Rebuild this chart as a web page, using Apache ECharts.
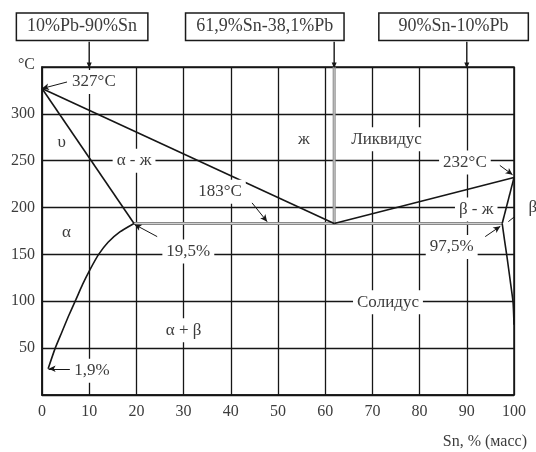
<!DOCTYPE html>
<html>
<head>
<meta charset="utf-8">
<script src="https://cdn.jsdelivr.net/npm/echarts@6/dist/echarts.min.js"></script>
<style>
html,body{margin:0;padding:0;background:#fff;}
#chart{width:536px;height:452px;}
</style>
</head>
<body>
<div id="chart"></div>
<script>
// ---- data ----
const xTicks = [0, 10, 20, 30, 40, 50, 60, 70, 80, 90, 100];
const yTicks = [50, 100, 150, 200, 250, 300];
const xName = 'Sn, % (масс)';
const yName = '°C';

const liquidusAlpha = [[0, 327], [61.9, 183]];
const liquidusBeta = [[61.9, 183], [100, 232]];
const solidusAlpha = [[0, 327], [19.5, 183]];
const solidusBeta = [[100, 232], [97.5, 183]];
const solvusAlpha = [[19.5, 183], [16.5, 174], [14, 163], [12, 150], [10.2, 134], [8.6, 118], [7.2, 102], [5.6, 84], [4.2, 67], [2.8, 50], [1.3, 28]];
const solvusBeta = [[97.5, 183], [98, 165], [98.5, 148], [99.2, 122], [99.8, 99], [100, 75]];
const eutecticLine = [[19.5, 183], [97.5, 183]];
const eutecticVertical = [[61.9, 183], [61.9, 350]];

// text labels [x, y, text]
const regionLabels = [
  [4.2, 269, 'υ'],
  [5.2, 173, 'α'],
  [19.5, 250, 'α - ж'],
  [55.5, 273, 'ж'],
  [73, 273, 'Ликвидус'],
  [37.7, 217, '183°C'],
  [89.6, 248, '232°C'],
  [92, 198, 'β - ж'],
  [104, 200, 'β'],
  [31, 153, '19,5%'],
  [86.8, 158, '97,5%'],
  [73.3, 99, 'Солидус'],
  [30, 69, 'α + β'],
  [10.6, 26, '1,9%'],
  [11, 334, '327°C']
];
// leaders with arrow heads [[x1,y1],[x2,y2]]
const arrowLeaders = [
  [[5.3, 334], [0, 327]],
  [[44.5, 205], [47.7, 185]],
  [[97, 245], [99.7, 235]],
  [[24.4, 169], [19.6, 182]],
  [[93.9, 169], [97.1, 180]],
  [[5.9, 28], [1.4, 28]]
];
const betaLeader = [[101.3, 195], [98.8, 185]];

// composition boxes at the top [x, y, text]
const boxLabels = [
  [8.5, 393, '10%Pb-90%Sn'],
  [47.2, 393, '61,9%Sn-38,1%Pb'],
  [87.2, 393, '90%Sn-10%Pb']
];
const boxPadX = [10, 10, 19];
const boxArrowX = [10, 61.9, 90];
const boxArrowFrom = 377;
const boxArrowTo = 350;

// ---- chart ----
const FONT = '"Liberation Serif", "DejaVu Serif", serif';
const TXT = '#3c3c3c';
const LINE = '#161616';
const chart = echarts.init(document.getElementById('chart'), null, {renderer: 'canvas'});

function curve(data, color, width, z, smooth) {
  return {type: 'line', data: data, symbol: 'none', clip: false, z: z || 3, smooth: smooth || false,
    lineStyle: {color: color || LINE, width: width || 1.6}, silent: true, animation: false};
}

const series = [];
series.push(curve(eutecticLine, '#8a8a8a', 3, 2));
series.push(curve(eutecticLine, '#d0d0d0', 1, 2));
series.push(curve(eutecticVertical, '#8a8a8a', 3, 2));
series.push(curve(eutecticVertical, '#d0d0d0', 1, 2));
series.push(curve(liquidusAlpha));
series.push(curve(liquidusBeta));
series.push(curve(solidusAlpha));
series.push(curve(solidusBeta));
series.push(curve(solvusAlpha, LINE, 1.6, 3, 0.2));
series.push(curve(solvusBeta, LINE, 1.6, 3, 0.2));
series.push(curve(betaLeader, LINE, 1, 3));

boxArrowX.forEach(function (x) {
  series.push({type: 'line', clip: false, z: 3, animation: false, silent: true,
    data: [[x, boxArrowFrom], {value: [x, boxArrowTo + 1.5], symbol: 'triangle', symbolSize: [5, 6], symbolRotate: 180}],
    showSymbol: true, symbol: 'none',
    itemStyle: {color: LINE}, lineStyle: {color: LINE, width: 1.4}});
});

series.push({type: 'line', data: [], symbol: 'none', animation: false, z: 3,
  markLine: {silent: true, symbol: ['none', 'arrow'], symbolSize: [5, 7], animation: false,
    label: {show: false},
    lineStyle: {color: LINE, width: 1, type: 'solid'},
    data: arrowLeaders.map(function (p) { return [{coord: p[0]}, {coord: p[1]}]; })}});

chart.setOption({
  animation: false,
  backgroundColor: '#ffffff',
  grid: {left: 42, top: 67, width: 472, height: 328, show: true, borderColor: LINE, borderWidth: 1.5, backgroundColor: 'transparent'},
  xAxis: {
    type: 'value', min: 0, max: 100, interval: 10, z: 0,
    name: xName, nameLocation: 'end', nameGap: 13,
    nameTextStyle: {fontFamily: FONT, fontSize: 16, color: TXT, align: 'right', verticalAlign: 'top', padding: [39, 0, 0, 0]},
    axisLine: {show: true, lineStyle: {color: LINE, width: 1.5}},
    axisTick: {show: false},
    splitLine: {show: true, lineStyle: {color: LINE, width: 1.3}},
    axisLabel: {margin: 9, fontFamily: FONT, fontSize: 16, color: TXT,
      formatter: function (v) { return xTicks.indexOf(v) >= 0 ? String(v) : ''; }}
  },
  yAxis: {
    type: 'value', min: 0, max: 350, interval: 50, z: 0,
    name: yName, nameLocation: 'end', nameGap: -6,
    nameTextStyle: {fontFamily: FONT, fontSize: 16, color: TXT, padding: [0, 31, 0, 0]},
    axisLine: {show: true, lineStyle: {color: LINE, width: 1.5}},
    axisTick: {show: false},
    splitLine: {show: true, lineStyle: {color: LINE, width: 1.3}},
    axisLabel: {margin: 7, fontFamily: FONT, fontSize: 16, color: TXT,
      formatter: function (v) { return yTicks.indexOf(v) >= 0 ? String(v) : ''; }}
  },
  series: series
});

// text annotations, positioned through the chart's own axes
const graphics = [];
regionLabels.forEach(function (d) {
  const p = chart.convertToPixel({gridIndex: 0}, [d[0], d[1]]);
  graphics.push({type: 'text', x: p[0], y: p[1], z: 100, silent: true,
    style: {text: d[2], fill: TXT, font: '17px ' + FONT, align: 'center', verticalAlign: 'middle',
      backgroundColor: '#ffffff', padding: [4, 4, 3, 4]}});
});
boxLabels.forEach(function (d, i) {
  const p = chart.convertToPixel({gridIndex: 0}, [d[0], d[1]]);
  graphics.push({type: 'text', x: p[0], y: p[1], z: 100, silent: true,
    style: {text: d[2], fill: TXT, font: '18px ' + FONT, align: 'center', verticalAlign: 'middle',
      backgroundColor: '#ffffff', borderColor: '#1a1a1a', borderWidth: 1.5,
      padding: [5, boxPadX[i], 3, boxPadX[i]]}});
});
chart.setOption({graphic: graphics});
</script>
</body>
</html>
